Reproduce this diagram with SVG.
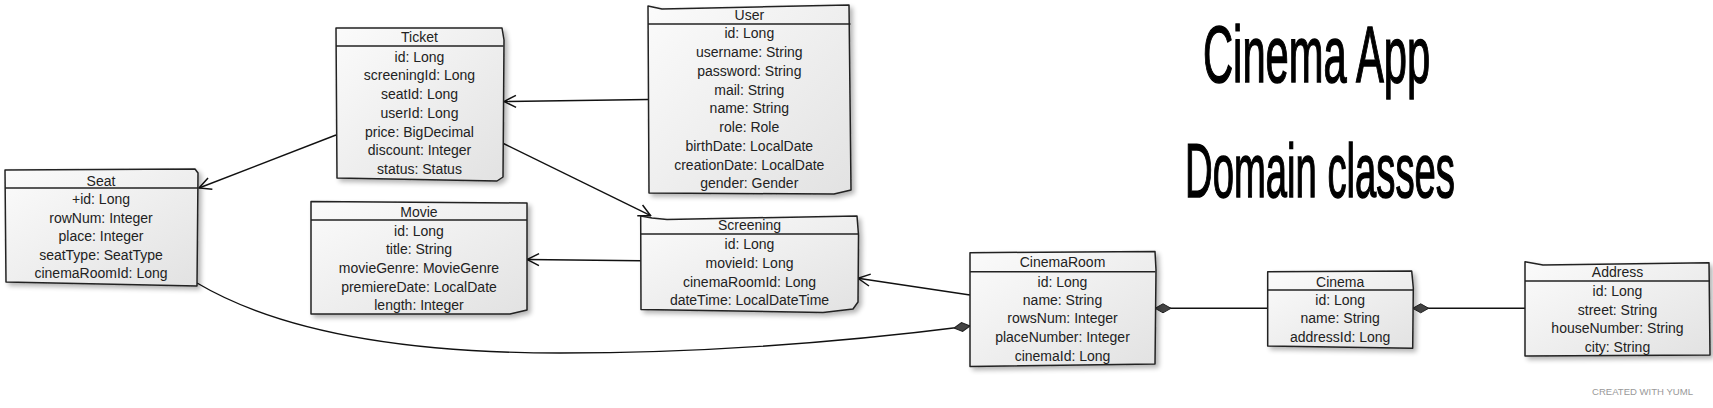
<svg xmlns="http://www.w3.org/2000/svg" width="1713" height="408" viewBox="0 0 1713 408">
<style>
.box{fill:url(#g);stroke:#222;stroke-width:1.5;stroke-linejoin:round;filter:url(#sh)}
.hl{stroke:#222;stroke-width:1.5;fill:none}
.t{font-family:"Liberation Sans",Arial,sans-serif;font-size:14px;fill:#222;text-anchor:middle}
.c{fill:none;stroke:#111;stroke-width:1.4}
.title{font-family:"Liberation Sans",Arial,sans-serif;fill:#000;stroke:#000;stroke-width:1.5}
</style>
<defs>
<linearGradient id="g" x1="0" y1="0" x2="1" y2="1">
<stop offset="0" stop-color="#fbfbfb"/>
<stop offset="1" stop-color="#e2e2e2"/>
</linearGradient>
<filter id="sh" x="-10%" y="-10%" width="125%" height="130%">
<feGaussianBlur in="SourceAlpha" stdDeviation="2.5"/>
<feOffset dx="3" dy="3" result="b"/>
<feComponentTransfer><feFuncA type="linear" slope="0.3"/></feComponentTransfer>
<feMerge><feMergeNode/><feMergeNode in="SourceGraphic"/></feMerge>
</filter>
<marker id="arr" markerWidth="14" markerHeight="14" refX="13" refY="7" orient="auto" markerUnits="userSpaceOnUse">
<path d="M1,1 L13,7 L1,13" fill="none" stroke="#111" stroke-width="1.5"/>
</marker>
<marker id="dia" markerWidth="17" markerHeight="12" refX="0.5" refY="6" orient="auto" markerUnits="userSpaceOnUse">
<path d="M0.5,6 L8.5,1.5 L16.5,6 L8.5,10.5 Z" fill="#444" stroke="#222" stroke-width="1"/>
</marker>
<marker id="diaE" markerWidth="17" markerHeight="12" refX="16.5" refY="6" orient="auto" markerUnits="userSpaceOnUse">
<path d="M0.5,6 L8.5,1.5 L16.5,6 L8.5,10.5 Z" fill="#444" stroke="#222" stroke-width="1"/>
</marker>
</defs>
<rect width="1713" height="408" fill="#fff"/>

<g id="connectors">
<path class="c" d="M648,99.5 L504,101.5" marker-end="url(#arr)"/>
<path class="c" d="M336,135 L199,188" marker-end="url(#arr)"/>
<path class="c" d="M503.5,143.5 L650.7,215.7" marker-end="url(#arr)"/>
<path class="c" d="M640.7,260.7 L527,259.5" marker-end="url(#arr)"/>
<path class="c" d="M970,295 L858,278.3" marker-end="url(#arr)"/>
<path class="c" d="M197,283 C285,335 420,353 560,353 C720,353 860,340 970,326" marker-end="url(#diaE)"/>
<path class="c" d="M1155,308.3 L1267.7,308.3" marker-start="url(#dia)"/>
<path class="c" d="M1412.7,308.3 L1525,308.3" marker-start="url(#dia)"/>
</g>

<g id="Seat">
<path class="box" d="M5,170 L195,169 L198,173 L197,286 L6,282 Z"/>
<path class="hl" d="M5,188 L198,188"/>
<text class="t" x="101" y="185.7">Seat</text>
<text class="t" x="101" y="204">+id: Long</text>
<text class="t" x="101" y="222.7">rowNum: Integer</text>
<text class="t" x="101" y="241.3">place: Integer</text>
<text class="t" x="101" y="260">seatType: SeatType</text>
<text class="t" x="101" y="278.3">cinemaRoomId: Long</text>
</g>

<g id="Ticket">
<path class="box" d="M336,28 L502,28 L504,40 L503,177 L497,181 L337,178 Z"/>
<path class="hl" d="M336,46 L503.5,46"/>
<text class="t" x="419.5" y="41.7">Ticket</text>
<text class="t" x="419.5" y="61.7">id: Long</text>
<text class="t" x="419.5" y="80.4">screeningId: Long</text>
<text class="t" x="419.5" y="99.1">seatId: Long</text>
<text class="t" x="419.5" y="117.8">userId: Long</text>
<text class="t" x="419.5" y="136.5">price: BigDecimal</text>
<text class="t" x="419.5" y="155.2">discount: Integer</text>
<text class="t" x="419.5" y="173.9">status: Status</text>
</g>

<g id="User">
<path class="box" d="M648,6 L662,9 L849,5 L851,190 L834,194 L649,193 Z"/>
<path class="hl" d="M648,24 L850.5,24"/>
<text class="t" x="749.3" y="20">User</text>
<text class="t" x="749.3" y="38.3">id: Long</text>
<text class="t" x="749.3" y="57.1">username: String</text>
<text class="t" x="749.3" y="75.8">password: String</text>
<text class="t" x="749.3" y="94.6">mail: String</text>
<text class="t" x="749.3" y="113.3">name: String</text>
<text class="t" x="749.3" y="132.1">role: Role</text>
<text class="t" x="749.3" y="150.8">birthDate: LocalDate</text>
<text class="t" x="749.3" y="169.6">creationDate: LocalDate</text>
<text class="t" x="749.3" y="188.3">gender: Gender</text>
</g>

<g id="Movie">
<path class="box" d="M311,201.5 L527,203 L527,310 L510,314 L311,314 Z"/>
<path class="hl" d="M311,220 L527,220"/>
<text class="t" x="419" y="216.7">Movie</text>
<text class="t" x="419" y="235.7">id: Long</text>
<text class="t" x="419" y="254.3">title: String</text>
<text class="t" x="419" y="273">movieGenre: MovieGenre</text>
<text class="t" x="419" y="291.7">premiereDate: LocalDate</text>
<text class="t" x="419" y="310.3">length: Integer</text>
</g>

<g id="Screening">
<path class="box" d="M640.7,216 L652,218 L667,219.5 L857,216 L858.5,235 L858,302 L853,309 L823,312.5 L641,309.5 Z"/>
<path class="hl" d="M641,234 L858.5,234"/>
<text class="t" x="749.5" y="230">Screening</text>
<text class="t" x="749.5" y="249.3">id: Long</text>
<text class="t" x="749.5" y="268.3">movieId: Long</text>
<text class="t" x="749.5" y="286.7">cinemaRoomId: Long</text>
<text class="t" x="749.5" y="305">dateTime: LocalDateTime</text>
</g>

<g id="CinemaRoom">
<path class="box" d="M970,252.7 L1155,251.5 L1156,270 L1155,364 L970,366.5 Z"/>
<path class="hl" d="M970,271.7 L1155.5,271.7"/>
<text class="t" x="1062.5" y="267.3">CinemaRoom</text>
<text class="t" x="1062.5" y="286.7">id: Long</text>
<text class="t" x="1062.5" y="305">name: String</text>
<text class="t" x="1062.5" y="323.3">rowsNum: Integer</text>
<text class="t" x="1062.5" y="341.7">placeNumber: Integer</text>
<text class="t" x="1062.5" y="361">cinemaId: Long</text>
</g>

<g id="Cinema">
<path class="box" d="M1267.7,271.7 L1411.7,271 L1413.3,288 L1412.7,348.3 L1267.7,346 Z"/>
<path class="hl" d="M1267.7,290 L1413,290"/>
<text class="t" x="1340.2" y="286.7">Cinema</text>
<text class="t" x="1340.2" y="305">id: Long</text>
<text class="t" x="1340.2" y="323.3">name: String</text>
<text class="t" x="1340.2" y="341.7">addressId: Long</text>
</g>

<g id="Address">
<path class="box" d="M1525,261.7 L1543,265 L1709,262.7 L1710,355 L1525,356 Z"/>
<path class="hl" d="M1525,281 L1710,281"/>
<text class="t" x="1617.5" y="276.7">Address</text>
<text class="t" x="1617.5" y="295.7">id: Long</text>
<text class="t" x="1617.5" y="315">street: String</text>
<text class="t" x="1617.5" y="333.3">houseNumber: String</text>
<text class="t" x="1617.5" y="351.7">city: String</text>
</g>

<g id="title">
<text class="title" transform="translate(1203,82) scale(0.52,1)" x="0" y="0" font-size="80" textLength="437" lengthAdjust="spacingAndGlyphs">Cinema App</text>
<text class="title" transform="translate(1185,197) scale(0.5,1)" x="0" y="0" font-size="76" textLength="540" lengthAdjust="spacingAndGlyphs">Domain classes</text>
</g>
<text x="1592" y="395" font-family="'Liberation Sans',Arial,sans-serif" font-size="9" fill="#999" textLength="101" lengthAdjust="spacingAndGlyphs">CREATED WITH YUML</text>
</svg>
